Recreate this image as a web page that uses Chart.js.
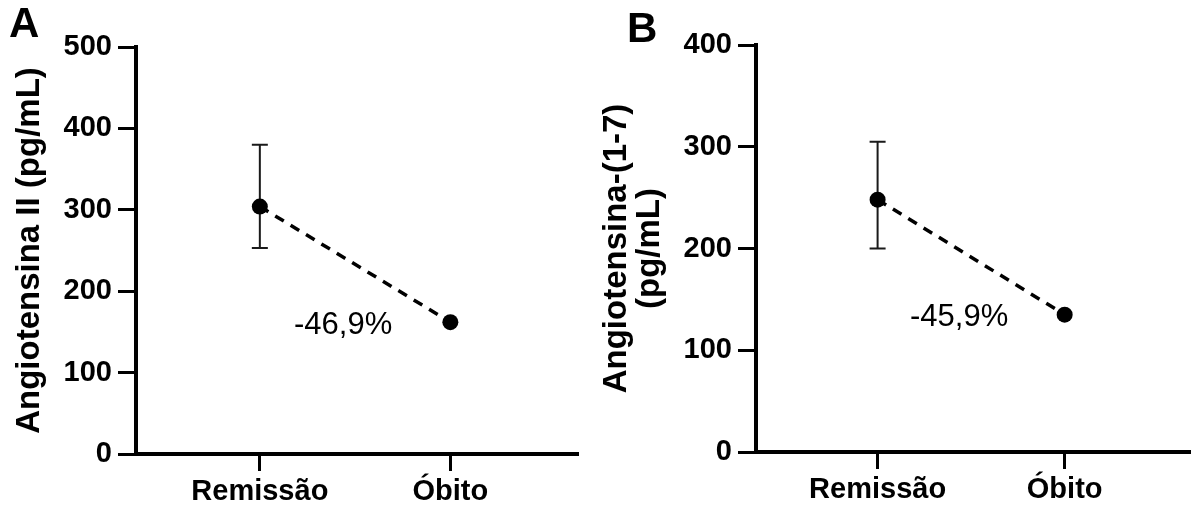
<!DOCTYPE html>
<html>
<head>
<meta charset="utf-8">
<script src="https://cdn.jsdelivr.net/npm/chart.js@4/dist/chart.umd.min.js"></script>
<style>
  body { margin: 0; background: #fff; width: 1198px; height: 510px; position: relative; overflow: hidden;
         font-family: "Liberation Sans", Arial, sans-serif; }
  .panel { position: absolute; top: 0; }
  .letter { position: absolute; font-weight: bold; font-size: 42px; line-height: 1; color: #000; }
</style>
</head>
<body>
<div class="panel" style="left:0"><canvas id="chartA" width="600" height="510"></canvas></div>
<div class="panel" style="left:600px"><canvas id="chartB" width="598" height="510"></canvas></div>
<div class="letter" style="left:9px;top:2px">A</div>
<div class="letter" style="left:627px;top:7px">B</div>
<script>
// values (mean, upper/lower error bar)
const categories = ['Remissão', 'Óbito'];

const angIIMean = [304, 162];
const angIIUpper = [380, null];
const angIILower = [253, null];

const ang17Mean = [248, 135];
const ang17Upper = [305, null];
const ang17Lower = [200, null];

const changeLabels = ['-46,9%', '-45,9%'];

const FONT = '"Liberation Sans", Arial, sans-serif';
Chart.defaults.animation = false;
Chart.defaults.font.family = FONT;
Chart.defaults.color = '#000';

// whiskers for the first group, drawn under the points
const errorBars = {
  id: 'errorBars',
  beforeDatasetsDraw(chart, args, opts) {
    const { ctx, scales: { x, y } } = chart;
    ctx.save();
    ctx.strokeStyle = '#1a1a1a';
    ctx.lineWidth = 2;
    opts.upper.forEach((hi, i) => {
      if (hi == null) return;
      const px = x.getPixelForValue(i);
      const top = y.getPixelForValue(hi);
      const bot = y.getPixelForValue(opts.lower[i]);
      ctx.beginPath();
      ctx.moveTo(px, top); ctx.lineTo(px, bot);
      ctx.moveTo(px - 8, top); ctx.lineTo(px + 8, top);
      ctx.moveTo(px - 8, bot); ctx.lineTo(px + 8, bot);
      ctx.stroke();
    });
    ctx.restore();
  }
};

// percent change label between the two groups
const changeLabel = {
  id: 'changeLabel',
  afterDatasetsDraw(chart, args, opts) {
    const { ctx, scales: { x, y } } = chart;
    const cx = (x.getPixelForValue(0) + x.getPixelForValue(1)) / 2 - 12;
    const cy = y.getPixelForValue(opts.anchor) + 3;
    ctx.save();
    ctx.fillStyle = '#000';
    ctx.font = '31px ' + FONT;
    ctx.textAlign = 'center';
    ctx.textBaseline = 'middle';
    ctx.fillText(opts.text, cx, cy);
    ctx.restore();
  }
};

function buildChart(id, p) {
  return new Chart(document.getElementById(id), {
    type: 'line',
    data: {
      datasets: [{
        data: p.means.map((v, i) => ({ x: i, y: v })),
        borderColor: '#000',
        borderWidth: 3.5,
        borderDash: [10, 8],
        pointRadius: 8,
        pointBackgroundColor: '#000',
        pointBorderWidth: 0,
        clip: false
      }]
    },
    options: {
      responsive: false,
      devicePixelRatio: 1,
      layout: { padding: { top: p.top, right: p.right, left: 0, bottom: 0 } },
      plugins: {
        legend: { display: false },
        tooltip: { enabled: false },
        errorBars: { upper: p.upper, lower: p.lower },
        changeLabel: { text: p.change, anchor: p.means[1] }
      },
      scales: {
        x: {
          type: 'linear',
          min: -0.65,
          max: 1.67,
          afterBuildTicks: s => { s.ticks = categories.map((c, i) => ({ value: i })); },
          afterFit: s => { s.height = p.xHeight; },
          ticks: {
            callback: v => categories[v],
            autoSkip: false,
            maxRotation: 0,
            padding: 4,
            color: '#000',
            font: { size: 29, weight: 'bold' }
          },
          grid: { drawOnChartArea: false, tickLength: 17, tickWidth: 3, tickColor: '#000' },
          border: { color: '#000', width: 4 }
        },
        y: {
          min: 0,
          max: p.yMax,
          afterFit: s => { s.width = p.yWidth; },
          ticks: {
            stepSize: 100,
            padding: 6,
            color: '#000',
            font: { size: 29, weight: 'bold' }
          },
          grid: { drawOnChartArea: false, tickLength: 18, tickWidth: 3, tickColor: '#000' },
          border: { color: '#000', width: 4 },
          title: {
            display: true,
            text: p.title,
            color: '#000',
            font: { size: 33, weight: 'bold', lineHeight: 1 },
            padding: { top: p.titlePad, bottom: 0 }
          }
        }
      }
    },
    plugins: [errorBars, changeLabel]
  });
}

buildChart('chartA', {
  means: angIIMean, upper: angIIUpper, lower: angIILower, change: changeLabels[0],
  title: 'Angiotensina II (pg/mL)', yMax: 500,
  top: 47, right: 22, yWidth: 136, xHeight: 56, titlePad: 13
});

buildChart('chartB', {
  means: ang17Mean, upper: ang17Upper, lower: ang17Lower, change: changeLabels[1],
  title: ['Angiotensina-(1-7)', '(pg/mL)'], yMax: 400,
  top: 45, right: 0, yWidth: 156, xHeight: 58, titlePad: 0
});
</script>
</body>
</html>
